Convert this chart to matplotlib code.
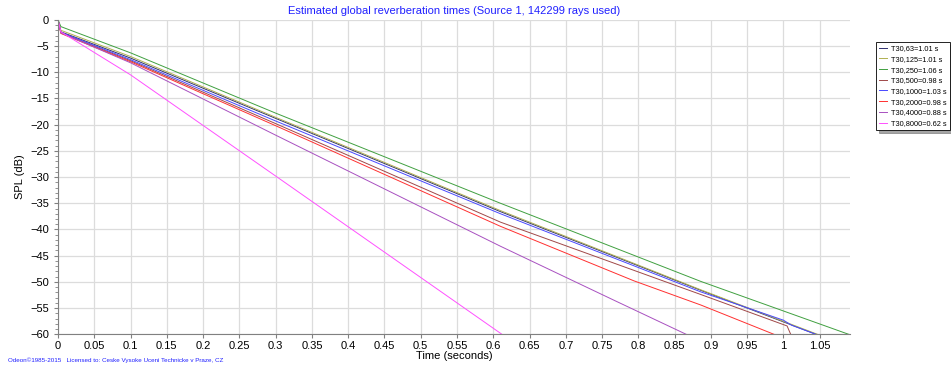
import matplotlib
matplotlib.use("Agg")
import matplotlib.pyplot as plt
from matplotlib.ticker import MultipleLocator

plt.rcParams['font.family'] = ['Liberation Sans', 'DejaVu Sans']

# Decay curves (time in s, level in dB)
t_63 = [0, 0.004, 0.1, 0.3, 0.61, 0.886, 1.045]
db_63 = [0, -2.3, -7.3, -18.8, -36.6, -51.6, -60]

t_125 = [0, 0.004, 0.1, 0.3, 0.61, 0.886, 1.047]
db_125 = [0, -2.0, -7.0, -18.6, -36.4, -51.5, -60]

t_250 = [0, 0.004, 0.1, 0.3, 0.61, 0.886, 1.09]
db_250 = [0, -1.3, -6.3, -17.8, -35.0, -49.9, -60]

t_500 = [0, 0.004, 0.1, 0.3, 0.61, 0.886, 1.005, 1.01]
db_500 = [0, -2.5, -7.8, -19.8, -38.6, -52.4, -58.4, -60]

t_1000 = [0, 0.004, 0.1, 0.3, 0.61, 0.886, 1.0, 1.008, 1.012, 1.045]
db_1000 = [0, -2.4, -7.6, -19.3, -37.0, -51.9, -57.3, -58.0, -58.3, -60]

t_2000 = [0, 0.004, 0.1, 0.3, 0.61, 0.794, 0.886, 0.987]
db_2000 = [0, -2.6, -8.0, -20.2, -39.4, -49.8, -54.4, -60]

t_4000 = [0, 0.004, 0.1, 0.3, 0.61, 0.768, 0.866]
db_4000 = [0, -2.5, -8.2, -22.0, -43.2, -53.6, -60]

t_8000 = [0, 0.004, 0.1, 0.3, 0.612]
db_8000 = [0, -2.3, -10.5, -29.8, -60]

labels = ["T30,63=1.01 s", "T30,125=1.01 s", "T30,250=1.06 s", "T30,500=0.98 s",
          "T30,1000=1.03 s", "T30,2000=0.98 s", "T30,4000=0.88 s", "T30,8000=0.62 s"]
colors = ["#303070", "#b0b050", "#40a040", "#a04848",
          "#4848ff", "#ff3030", "#a850c0", "#ff50ff"]

curves = [(t_63, db_63), (t_125, db_125), (t_250, db_250), (t_500, db_500),
          (t_1000, db_1000), (t_2000, db_2000), (t_4000, db_4000), (t_8000, db_8000)]

fig = plt.figure(figsize=(9.51, 3.67), dpi=100)
ax = fig.add_axes([0.061, 0.089, 0.833, 0.857])

lines = []
for (t, db), c, lab in zip(curves, colors, labels):
    ln, = ax.plot(t, db, color=c, lw=0.7, label=lab)
    lines.append(ln)

ax.set_xlim(0, 1.092)
ax.set_ylim(-60, 0)
ax.yaxis.set_major_locator(MultipleLocator(5))
ax.yaxis.set_minor_locator(MultipleLocator(1))
ax.set_xticks([i * 0.05 for i in range(22)])
ax.set_xticklabels(["0"] + ["%g" % round(i * 0.05, 2) for i in range(1, 22)])
ax.grid(True, color="#dcdcdc", lw=0.9)
ax.set_axisbelow(True)
for s in ["top", "right"]:
    ax.spines[s].set_visible(False)
ax.spines["left"].set_color("#808080")
ax.spines["bottom"].set_color("#808080")
ax.tick_params(labelsize=8, length=3, color="#808080")
ax.tick_params(axis="x", pad=2)
ax.tick_params(which="minor", length=2, color="#808080")

ax.set_xlabel("Time (seconds)", fontsize=8, labelpad=0)
ax.set_ylabel("SPL (dB)", fontsize=8, labelpad=4)
ax.set_title("Estimated global reverberation times (Source 1, 142299 rays used)",
             fontsize=8, color="#2020ff", pad=4)

leg = fig.legend(handles=lines, loc="upper left", bbox_to_anchor=(0.921, 0.886),
                 fontsize=5.3, frameon=True, fancybox=False, shadow=True,
                 handlelength=1.1, handletextpad=0.45, labelspacing=0.48,
                 borderpad=0.45, borderaxespad=0)
leg.get_frame().set_edgecolor("black")
leg.get_frame().set_linewidth(0.6)

fig.text(0.008, 0.014, "Odeon\u00a91985-2015   Licensed to: Ceske Vysoke Uceni Technicke v Praze, CZ",
         fontsize=4.5, color="#2020ff")

fig.savefig("out.png", dpi=100)
